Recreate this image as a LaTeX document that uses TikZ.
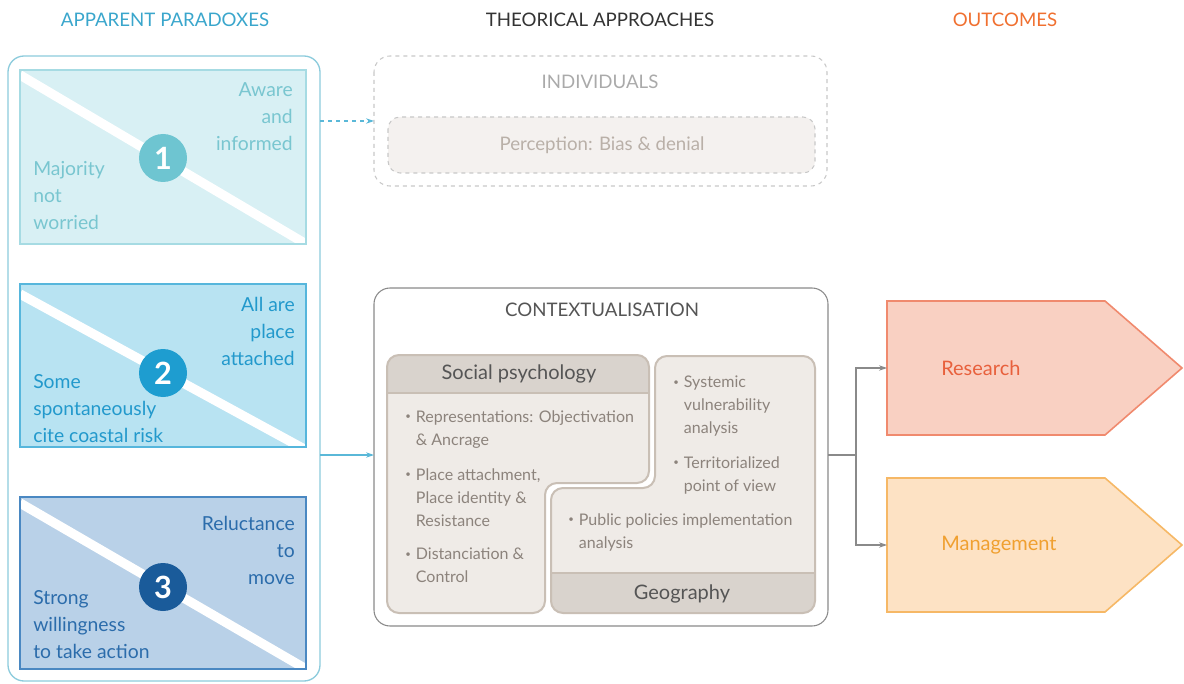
\documentclass[tikz,border=0pt]{standalone}
\usepackage{fontspec}
\usepackage{graphicx}
\setmainfont{Lato}
\usetikzlibrary{arrows.meta}
\definecolor{tblue}{HTML}{3AA6CC}
\definecolor{tdark}{HTML}{333333}
\definecolor{torange}{HTML}{F07030}
\definecolor{outerln}{HTML}{8CCBDC}
\definecolor{pAfill}{HTML}{D8F0F4}
\definecolor{pAline}{HTML}{A6DBE3}
\definecolor{pAtext}{HTML}{79C6D0}
\definecolor{pAnum}{HTML}{6EC5D1}
\definecolor{pBfill}{HTML}{B8E3F2}
\definecolor{pBline}{HTML}{56B6DC}
\definecolor{pBtext}{HTML}{2299CC}
\definecolor{pBnum}{HTML}{1E9DD0}
\definecolor{pCfill}{HTML}{B9D1E8}
\definecolor{pCline}{HTML}{4A88C2}
\definecolor{pCtext}{HTML}{2B6CAB}
\definecolor{pCnum}{HTML}{1A5B9A}
\definecolor{dashgray}{HTML}{C8C8C8}
\definecolor{indtext}{HTML}{AAAAAA}
\definecolor{indfill}{HTML}{F4F1EF}
\definecolor{indinner}{HTML}{B9B0A8}
\definecolor{ctxline}{HTML}{8A8A8A}
\definecolor{ctxtext}{HTML}{555555}
\definecolor{spfill}{HTML}{EFEBE7}
\definecolor{sphead}{HTML}{D9D3CD}
\definecolor{spline}{HTML}{C9BFB5}
\definecolor{bultext}{HTML}{8C837C}
\definecolor{resfill}{HTML}{F9D0C2}
\definecolor{resline}{HTML}{F08A6E}
\definecolor{restext}{HTML}{E8603C}
\definecolor{manfill}{HTML}{FDE2C4}
\definecolor{manline}{HTML}{F6B866}
\definecolor{mantext}{HTML}{F0A030}
\definecolor{arrblue}{HTML}{5AB8D8}
\newcommand{\bl}{\makebox[8pt][l]{\raisebox{0.3ex}{\scalebox{0.6}{\textbullet}}}}
\newcommand{\ind}{\hspace*{8pt}}
\tikzset{
  ttl/.style={font=\fontsize{14}{16}\selectfont, inner sep=0},
  ptxt/.style={font=\fontsize{14.5}{20.25}\selectfont, inner sep=0},
  numc/.style={circle, minimum size=36pt, text=white, font=\fontsize{23}{23}\selectfont\bfseries, inner sep=0},
  bul/.style={font=\fontsize{12}{17.25}\selectfont, text=bultext, anchor=north west, inner sep=0, align=left},
  band/.style={white, line width=7pt},
  conn/.style={draw=ctxline, line width=0.8pt, -{Stealth[length=6pt,width=4pt]}},
}
\begin{document}
\begin{tikzpicture}[x=0.75pt,y=-0.75pt]
\useasboundingbox (0,0) rectangle (1184,684);
% titles
\node[ttl, text=tblue] (tA) at (165,20) {APPARENT PARADOXES};
\node[ttl, text=tdark] (tB) at (600,20) {THEORICAL APPROACHES};
\node[ttl, text=torange] (tC) at (1005,20) {OUTCOMES};
% outer box
\draw[outerln, line width=1pt, rounded corners=12pt] (8,56) rectangle (320,681);
\coordinate (outerA) at (320,121);
\coordinate (outerB) at (320,455);
% panel 1
\fill[pAfill] (20,70) rectangle (306,244);
\begin{scope}\clip (20,70) rectangle (306,244);
\draw[band] (20,75) -- (306,244);\end{scope}
\draw[pAline, line width=2pt] (20,70) rectangle (306,244);
\node[numc, fill=pAnum] (n1) at (163,158) {1};
\node[ptxt, text=pAtext, align=right, anchor=north east] (a1) at (293,82) {Aware\\and\\informed};
\node[ptxt, text=pAtext, align=left, anchor=north west] (b1) at (33,161) {Majority\\not\\worried};
% panel 2
\fill[pBfill] (20,284) rectangle (306,447);
\begin{scope}\clip (20,284) rectangle (306,447);
\draw[band] (20,294) -- (306,450);\end{scope}
\draw[pBline, line width=2pt] (20,284) rectangle (306,447);
\node[numc, fill=pBnum] (n2) at (163,373) {2};
\node[ptxt, text=pBtext, align=right, anchor=north east] (a2) at (295,297) {All are\\place\\attached};
\node[ptxt, text=pBtext, align=left, anchor=north west] (b2) at (33,374) {Some\\spontaneously\\cite coastal risk};
% panel 3
\fill[pCfill] (20,497) rectangle (306,669);
\begin{scope}\clip (20,497) rectangle (306,669);
\draw[band] (20,503) -- (306,669);\end{scope}
\draw[pCline, line width=2pt] (20,497) rectangle (306,669);
\node[numc, fill=pCnum] (n3) at (163,587) {3};
\node[ptxt, text=pCtext, align=right, anchor=north east] (a3) at (295,516) {Reluctance\\to\\move};
\node[ptxt, text=pCtext, align=left, anchor=north west] (b3) at (33,590) {Strong\\willingness\\to take action};
% individuals
\draw[dashgray, dashed, line width=0.8pt, rounded corners=12pt] (374,56) rectangle (827,186);
\coordinate (indL) at (374,121);
\node[ttl, text=indtext] (ind) at (600,82) {INDIVIDUALS};
\draw[dashgray, dashed, line width=0.8pt, fill=indfill, rounded corners=9pt] (388,117) rectangle (815,173);
\node[text=indinner, font=\fontsize{14}{16}\selectfont, inner sep=0] (perc) at (602,145) {Perception: Bias \& denial};
\draw[arrblue, dashed, line width=0.8pt, -{Stealth[length=6pt,width=4pt]}] (outerA) -- (indL);
% contextualisation
\draw[ctxline, line width=0.8pt, rounded corners=12pt, fill=white] (374,288) rectangle (828,626);
\coordinate (ctxL) at (374,455);
\coordinate (ctxR) at (828,455);
\node[ttl, text=ctxtext] (ctx) at (602,310) {CONTEXTUALISATION};
\draw[arrblue, line width=0.8pt, -{Stealth[length=6pt,width=4pt]}] (outerB) -- (ctxL);
% social psychology shape
\begin{scope}
\clip[rounded corners=9pt] (387,355) -- (649,355) -- (649,483) -- (545,483) -- (545,613) -- (387,613) -- cycle;
\fill[spfill] (387,355) rectangle (649,613);
\fill[sphead] (387,355) rectangle (649,393);
\draw[spline, line width=1.2pt] (387,393) -- (649,393);
\end{scope}
\draw[spline, line width=1.5pt, rounded corners=9pt] (387,355) -- (649,355) -- (649,483) -- (545,483) -- (545,613) -- (387,613) -- cycle;
\node[text=ctxtext, font=\fontsize{15}{17}\selectfont, inner sep=0] (sp) at (519,374) {Social psychology};
% geography shape
\begin{scope}
\clip[rounded corners=9pt] (655,356) -- (815,356) -- (815,613) -- (551,613) -- (551,488) -- (655,488) -- cycle;
\fill[spfill] (551,356) rectangle (815,613);
\fill[sphead] (551,573) rectangle (815,613);
\draw[spline, line width=1.2pt] (551,573) -- (815,573);
\end{scope}
\draw[spline, line width=1.5pt, rounded corners=9pt] (655,356) -- (815,356) -- (815,613) -- (551,613) -- (551,488) -- (655,488) -- cycle;
\node[text=ctxtext, font=\fontsize{15}{17}\selectfont, inner sep=0] (geo) at (682,594) {Geography};
% bullets
\node[bul] (s1) at (405,410) {\bl Representations: Objectivation\\\ind \& Ancrage};
\node[bul] (s2) at (405,468) {\bl Place attachment,\\\ind Place identity \&\\\ind Resistance};
\node[bul] (s3) at (405,548) {\bl Distanciation \&\\\ind Control};
\node[bul] (g1) at (673,376) {\bl Systemic\\\ind vulnerability\\\ind analysis};
\node[bul] (g2) at (673,456) {\bl Territorialized\\\ind point of view};
\node[bul] (g3) at (568,513) {\bl Public policies implementation\\\ind analysis};
% outcomes
\draw[resline, line width=1.2pt, fill=resfill] (887,301) -- (1105,301) -- (1182,368) -- (1105,435) -- (887,435) -- cycle;
\coordinate (resL) at (887,368);
\node[text=restext, font=\fontsize{15}{17}\selectfont, inner sep=0, anchor=west] (res) at (941,368) {Research};
\draw[manline, line width=1.2pt, fill=manfill] (887,478) -- (1105,478) -- (1182,545) -- (1105,612) -- (887,612) -- cycle;
\coordinate (manL) at (887,545);
\node[text=mantext, font=\fontsize{15}{17}\selectfont, inner sep=0, anchor=west] (man) at (941,545) {Management};
% connectors to outcomes
\coordinate (split) at (856,455);
\draw[ctxline, line width=0.8pt] (ctxR) -- (split);
\draw[conn] (split) |- (resL);
\draw[conn] (split) |- (manL);
\end{tikzpicture}
\end{document}
